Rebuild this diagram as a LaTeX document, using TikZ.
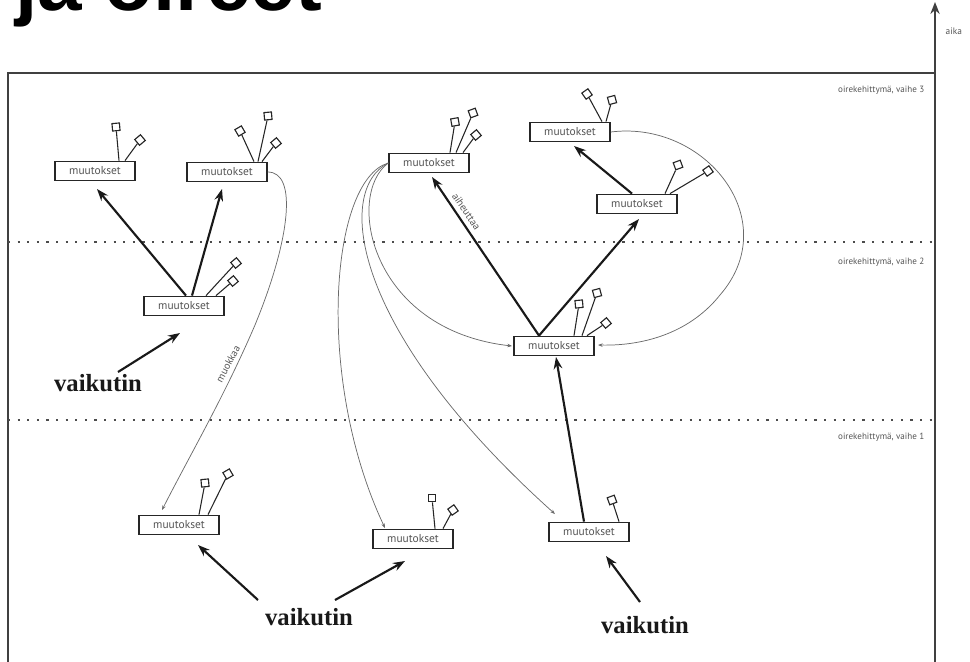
\documentclass[tikz,border=0pt]{standalone}
\usepackage{fontspec}
\setmainfont{Liberation Serif}
\setsansfont{PT Sans}
\newfontfamily\headfont{Liberation Sans}
\usetikzlibrary{arrows.meta,calc}
\definecolor{txtgray}{HTML}{555555}
\definecolor{linegray}{HTML}{6A6A6A}
\tikzset{
  box/.style={draw=black!85, line width=1.1pt, fill=white, minimum width=60pt, minimum height=14.5pt,
    inner sep=0pt, font=\sffamily\fontsize{8.6}{9}\selectfont, text=txtgray},
  flag/.style={draw=black!85, line width=0.85pt, fill=white, minimum size=5.6pt, inner sep=0pt},
  stem/.style={draw=black!85, line width=0.8pt},
  strong/.style={draw=black!90, line width=1.6pt, -{Stealth[length=9pt,width=6.5pt]}},
  thin/.style={draw=linegray, line width=0.55pt, -{Stealth[length=3.5pt,width=2.6pt]}},
  phase/.style={draw=black!70, line width=1.1pt, dash pattern=on 1.6pt off 5.6pt},
  phaselabel/.style={anchor=east, font=\sffamily\fontsize{6.8}{7}\selectfont, text=txtgray},
  cause/.style={font=\bfseries\fontsize{18.5}{19}\selectfont, text=black!90},
  curvelabel/.style={font=\sffamily\fontsize{7.8}{8}\selectfont, text=txtgray},
}
\begin{document}
\begin{tikzpicture}[x=0.75pt,y=-0.75pt]
\useasboundingbox (0,0) rectangle (970,661);

% heading, mostly above the page edge
\node[anchor=base west, inner sep=0pt, font=\headfont\bfseries\fontsize{60}{60}\selectfont] (head) at (15,10) {ja oireet};

% frame and time axis
\coordinate (fl) at (8,700);
\coordinate (ftl) at (8,73);
\coordinate (ftr) at (935,73);
\coordinate (ab) at (935,700);
\coordinate (at) at (935,2);
\draw[draw=black!75, line width=1.1pt] (fl) -- (ftl) -- (ftr);
\draw[draw=black!75, line width=1.1pt, -{Stealth[length=9pt,width=7pt]}] (ab) -- (at);
\node[anchor=west, font=\sffamily\fontsize{7}{7}\selectfont, text=txtgray] (aika) at (941,31) {aika};

% phase boundaries
\coordinate (d2l) at (8,242); \coordinate (d2r) at (935,242);
\coordinate (d1l) at (8,420); \coordinate (d1r) at (935,420);
\draw[phase] (d2l) -- (d2r);
\draw[phase] (d1l) -- (d1r);
\node[phaselabel] (v3) at (929,90) {oirekehittymä, vaihe 3};
\node[phaselabel] (v2) at (929,262) {oirekehittymä, vaihe 2};
\node[phaselabel] (v1) at (929,437) {oirekehittymä, vaihe 1};

% change boxes
\node[box] (A) at (95,171) {muutokset};
\node[box] (B) at (227,172) {muutokset};
\node[box] (C) at (184,306) {muutokset};
\node[box] (D) at (429,163) {muutokset};
\node[box] (E) at (570,132) {muutokset};
\node[box] (F) at (637,204) {muutokset};
\node[box] (G) at (554,346) {muutokset};
\node[box] (H) at (179,525) {muutokset};
\node[box] (I) at (413,539) {muutokset};
\node[box] (J) at (589,532) {muutokset};

% symptom flags on stems
\node[flag, rotate=5] (a1) at (116,127) {};
\node[flag, rotate=40] (a2) at (140,140) {};
\draw[stem] (A.north) ++(24,0) -- (a1);
\draw[stem] (A.north) ++(30,0) -- (a2);

\node[flag, rotate=30] (b1) at (240,131) {};
\node[flag, rotate=5] (b2) at (268,116) {};
\node[flag, rotate=40] (b3) at (276,143) {};
\draw[stem] (B.north) ++(27,0) -- (b1);
\draw[stem] (B.north) ++(31,0) -- (b2);
\draw[stem] (B.north) ++(35,0) -- (b3);

\node[flag, rotate=40] (c1) at (236,263) {};
\node[flag, rotate=40] (c2) at (233,281) {};
\draw[stem] (C.north) ++(22,0) -- (c1);
\draw[stem] (C.north) ++(32,0) -- (c2);

\node[flag, rotate=10] (d1) at (455,122) {};
\node[flag, rotate=20] (d2) at (473,113) {};
\draw[stem] (D.north) ++(21,0) -- (d1);
\draw[stem] (D.north) ++(27,0) -- (d2);
\node[flag, rotate=40] (d3) at (476,135) {};
\draw[stem] (D.north) ++(34,0) -- (d3);

\node[flag, rotate=35] (e1) at (587,94) {};
\node[flag, rotate=15] (e2) at (612,100) {};
\draw[stem] (E.north) ++(32,0) -- (e1);
\draw[stem] (E.north) ++(36,0) -- (e2);

\node[flag, rotate=20] (f1) at (678,165) {};
\node[flag, rotate=35] (f2) at (708,171) {};
\draw[stem] (F.north) ++(28,0) -- (f1);
\draw[stem] (F.north) ++(33,0) -- (f2);

\node[flag, rotate=5] (g1) at (579,304) {};
\node[flag, rotate=15] (g2) at (597,293) {};
\node[flag, rotate=40] (g3) at (606,323) {};
\draw[stem] (G.north) ++(20,0) -- (g1);
\draw[stem] (G.north) ++(28,0) -- (g2);
\draw[stem] (G.north) ++(33,0) -- (g3);

\node[flag, rotate=5] (h1) at (205,483) {};
\node[flag, rotate=30] (h2) at (228,474) {};
\draw[stem] (H.north) ++(20,0) -- (h1);
\draw[stem] (H.north) ++(29,0) -- (h2);

\node[flag, rotate=0] (i1) at (432,498) {};
\node[flag, rotate=35] (i2) at (453,510) {};
\draw[stem] (I.north) ++(22,0) -- (i1);
\draw[stem] (I.north) ++(30,0) -- (i2);

\node[flag, rotate=20] (j1) at (612,500) {};
\draw[stem] (J.north) ++(30,0) -- (j1);

% causal arrows between stages
\coordinate (cA) at (97,189);
\coordinate (cB) at (222,189);
\draw[strong] (C.north) ++(2,0) -- (cA);
\draw[strong] (C.north) ++(8,0) -- (cB);

\coordinate (gD) at (432,177);
\coordinate (gF) at (639,219);
\draw[strong] (G.north) ++(-15,0) coordinate (gs) -- (gD) node[pos=0.75, sloped, above=0pt, curvelabel] (lab1) {aiheuttaa};
\draw[strong] (gs) -- (gF);

\coordinate (fE) at (574,146);
\draw[strong] (F.north) ++(-5,0) -- (fE);

\coordinate (jG) at (556,357);
\draw[strong] (J.north) ++(-5,0) -- (jG);

% triggers
\node[cause] (t1) at (98,383) {vaikutin};
\node[cause] (t2) at (309,617) {vaikutin};
\node[cause] (t3) at (645,625) {vaikutin};
\coordinate (t1s) at (118,372);
\coordinate (t1e) at (180,333);
\draw[strong] (t1s) -- (t1e);
\coordinate (t2a) at (258,600);
\coordinate (t2ae) at (198,545);
\coordinate (t2b) at (335,600);
\coordinate (t2be) at (405,561);
\draw[strong] (t2a) -- (t2ae);
\draw[strong] (t2b) -- (t2be);
\coordinate (t3s) at (640,602);
\coordinate (t3e) at (606,556);
\draw[strong] (t3s) -- (t3e);

% modifying links (thin curves)
\coordinate (hE) at (162,510);
\draw[thin] (B.east) .. controls (298,172) and (290,240) .. (255,325)
  .. controls (225,395) and (190,455) .. (hE);
\node[curvelabel, rotate=62] (lab2) at (228,364) {muokkaa};

\coordinate (iE) at (385,528);
\coordinate (jE) at (555,514);
\coordinate (gE) at (512,346);
\draw[thin] (D.west) .. controls (330,180) and (315,380) .. (iE);
\draw[thin] (D.west) .. controls (335,190) and (350,330) .. (jE);
\draw[thin] (D.west) .. controls (345,195) and (370,330) .. (gE);

\coordinate (gR) at (598,345);
\draw[thin] (E.east) .. controls (705,120) and (785,220) .. (720,295)
  .. controls (688,335) and (640,346) .. (gR);
\end{tikzpicture}
\end{document}
